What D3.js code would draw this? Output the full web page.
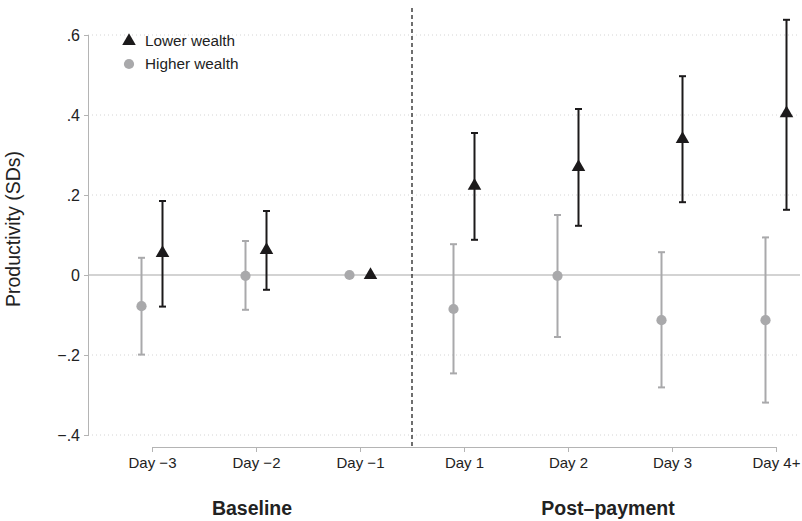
<!DOCTYPE html>
<meta charset="utf-8">
<style>
body { margin: 0; background: #fff; }
svg { font-family: "Liberation Sans", Arial, sans-serif; }
.axis path, .axis line { fill: none; stroke: #b4b4b4; shape-rendering: crispEdges; }
.axis text { fill: #222; font-size: 15px; }
.y.axis text { font-size: 16px; }
</style>
<body>
<script src="https://d3js.org/d3.v7.min.js"></script>
<script>

var days = ["Day \u22123", "Day \u22122", "Day \u22121", "Day 1", "Day 2", "Day 3", "Day 4+"];
var yTicks = [-0.4, -0.2, 0, 0.2, 0.4, 0.6];

// lower wealth: estimate, ci low, ci high (null = no interval)
var lowerEst = [0.055, 0.062, 0, 0.223, 0.270, 0.340, 0.404];
var lowerLo  = [-0.079, -0.037, null, 0.088, 0.123, 0.182, 0.163];
var lowerHi  = [0.185, 0.160, null, 0.355, 0.415, 0.497, 0.638];

// higher wealth
var higherEst = [-0.078, -0.002, 0, -0.085, -0.002, -0.113, -0.113];
var higherLo  = [-0.199, -0.087, null, -0.246, -0.155, -0.281, -0.319];
var higherHi  = [0.043, 0.085, null, 0.077, 0.150, 0.057, 0.094];

var width = 802, height = 521;
var black = "#1c1a1b", grey = "#a9a9ab";

var svg = d3.select("body").append("svg")
  .attr("width", width).attr("height", height);

var x = d3.scalePoint().domain(days).range([152, 776]);
var y = d3.scaleLinear().domain([-0.4, 0.6]).range([435, 35]);
var off = 10.5;
var plotLeft = 88, plotRight = 800, axisY = 447;

// gridlines
svg.append("g").selectAll("line")
  .data(yTicks.filter(function(d) { return d !== 0; }))
  .enter().append("line")
  .attr("x1", plotLeft).attr("x2", plotRight)
  .attr("y1", function(d) { return y(d); }).attr("y2", function(d) { return y(d); })
  .attr("stroke", "#d4d4d4").attr("stroke-width", 1)
  .attr("stroke-dasharray", "1,3");

// zero line
svg.append("line")
  .attr("x1", plotLeft).attr("x2", plotRight)
  .attr("y1", y(0)).attr("y2", y(0))
  .attr("stroke", "#c4c4c4").attr("stroke-width", 1.5);

// y axis
var yAxis = d3.axisLeft(y).tickValues(yTicks).tickSize(4).tickPadding(4)
  .tickFormat(function(d) {
    if (d === 0) return "0";
    var s = d3.format(".1f")(Math.abs(d)).replace(/^0/, "");
    return (d < 0 ? "\u2212" : "") + s;
  });
svg.append("g").attr("class", "y axis")
  .attr("transform", "translate(" + plotLeft + ",0)")
  .call(yAxis);

// x axis
var xAxis = d3.axisBottom(x).tickSize(5).tickSizeOuter(0).tickPadding(5);
svg.append("g").attr("class", "x axis")
  .attr("transform", "translate(0," + axisY + ")")
  .call(xAxis);

// dashed divider between baseline and post-payment
var divX = (x(days[2]) + x(days[3])) / 2;
svg.append("line")
  .attr("x1", divX).attr("x2", divX)
  .attr("y1", 8).attr("y2", axisY)
  .attr("stroke", "#222").attr("stroke-width", 1.3)
  .attr("stroke-dasharray", "4,3");

// y label
svg.append("text")
  .attr("transform", "translate(20," + 229 + ") rotate(-90)")
  .attr("text-anchor", "middle")
  .style("font-size", "19.5px").attr("fill", "#222")
  .text("Productivity (SDs)");

// group labels
svg.append("text")
  .attr("x", x(days[1]) - 4).attr("y", 515)
  .attr("text-anchor", "middle")
  .style("font-size", "19.5px").style("font-weight", "bold").attr("fill", "#222")
  .text("Baseline");
svg.append("text")
  .attr("x", (x(days[4]) + x(days[5])) / 2 - 12).attr("y", 515)
  .attr("text-anchor", "middle")
  .style("font-size", "19.5px").style("font-weight", "bold").attr("fill", "#222")
  .text("Post\u2013payment");

function drawSeries(est, lo, hi, color, dx, symbolType, size) {
  var rows = days.map(function(d, i) {
    return { day: d, est: est[i], lo: lo[i], hi: hi[i] };
  });
  var g = svg.append("g");
  var withCi = rows.filter(function(d) { return d.lo !== null; });
  g.selectAll("line.ci").data(withCi).enter().append("line")
    .attr("x1", function(d) { return x(d.day) + dx; })
    .attr("x2", function(d) { return x(d.day) + dx; })
    .attr("y1", function(d) { return y(d.lo); })
    .attr("y2", function(d) { return y(d.hi); })
    .attr("stroke", color).attr("stroke-width", 2);
  ["lo", "hi"].forEach(function(k) {
    g.selectAll("line.cap" + k).data(withCi).enter().append("line")
      .attr("x1", function(d) { return x(d.day) + dx - 3.5; })
      .attr("x2", function(d) { return x(d.day) + dx + 3.5; })
      .attr("y1", function(d) { return y(d[k]); })
      .attr("y2", function(d) { return y(d[k]); })
      .attr("stroke", color).attr("stroke-width", 2);
  });
  g.selectAll("path.pt").data(rows).enter().append("path")
    .attr("transform", function(d) {
      return "translate(" + (x(d.day) + dx) + "," + y(d.est) + ")";
    })
    .attr("d", d3.symbol().type(symbolType).size(size))
    .attr("fill", color);
}

drawSeries(higherEst, higherLo, higherHi, grey, -off, d3.symbolCircle, 82);
drawSeries(lowerEst, lowerLo, lowerHi, black, off, d3.symbolTriangle, 80);

// legend
var legend = [
  { label: "Lower wealth", color: black, type: d3.symbolTriangle, size: 80, y: 41 },
  { label: "Higher wealth", color: grey, type: d3.symbolCircle, size: 82, y: 64 }
];
var lg = svg.append("g").selectAll("g").data(legend).enter().append("g")
  .attr("transform", function(d) { return "translate(129," + d.y + ")"; });
lg.append("path")
  .attr("d", function(d) { return d3.symbol().type(d.type).size(d.size)(); })
  .attr("fill", function(d) { return d.color; });
lg.append("text")
  .attr("x", 16).attr("dy", "0.35em")
  .style("font-size", "15.3px").attr("fill", "#222")
  .text(function(d) { return d.label; });

</script>
</body>
